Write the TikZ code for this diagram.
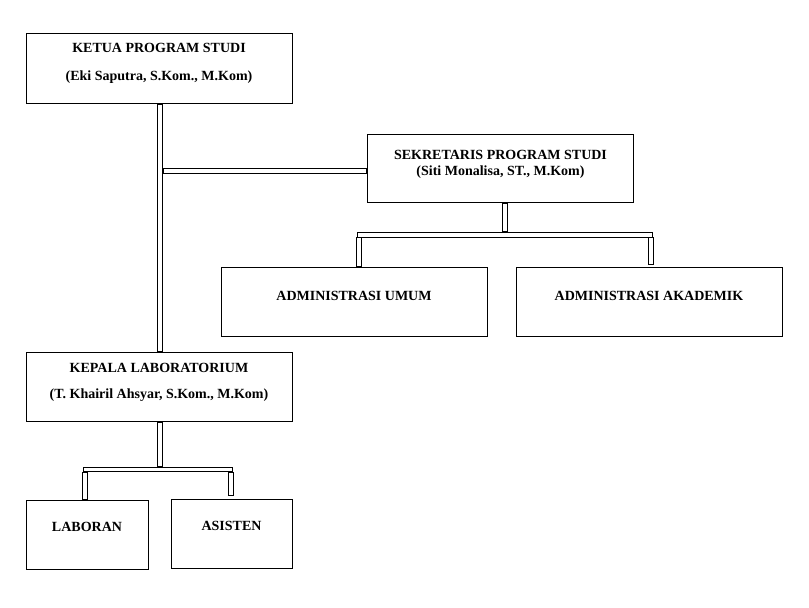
\documentclass[tikz,border=0pt]{standalone}
\usepackage{fontspec}
\setmainfont{Liberation Serif}
\newcommand{\lineat}[2]{\raisebox{#1}[0pt][0pt]{\makebox[0pt]{#2}}}
\tikzset{
  box/.style={draw, line width=1pt, inner sep=0pt, minimum height=69pt,
    font=\fontsize{14}{16}\selectfont\bfseries},
  wide/.style={box, minimum width=266pt},
  narrow/.style={box, minimum width=122pt},
  conn/.style={draw, double=white, line width=1pt, double distance=3.5pt,
    line cap=rect, shorten <=2.75pt, shorten >=2.75pt},
}
\begin{document}
\begin{tikzpicture}[x=1pt,y=-1pt]
\fill[white] (0,0) rectangle (809,608);
\useasboundingbox (0,0) rectangle (809,608);

% boxes
\node[wide, minimum height=70pt] (k) at (159,68.5)
  {\lineat{16.4pt}{KETUA PROGRAM STUDI}\lineat{-11.6pt}{(Eki Saputra, S.Kom., M.Kom)}};
\node[wide, minimum height=68pt] (s) at (500.5,168.5)
  {\lineat{9.4pt}{SEKRETARIS PROGRAM STUDI}\lineat{-7pt}{(Siti Monalisa, ST., M.Kom)}};
\node[wide] (au) at (354,301.5) {\lineat{0.9pt}{ADMINISTRASI UMUM}};
\node[wide] (ak) at (649,301.5) {\lineat{0.9pt}{ADMINISTRASI AKADEMIK}};
\node[wide] (kl) at (159,387)
  {\lineat{14.5pt}{KEPALA LABORATORIUM}\lineat{-11pt}{(T. Khairil Ahsyar, S.Kom., M.Kom)}};
\node[narrow] (lb) at (87,534.5) {\lineat{2.9pt}{LABORAN}};
\node[narrow, minimum width=121pt] (as) at (231.5,533.5) {\lineat{2.9pt}{ASISTEN}};

% named points of the connector bars
\coordinate (vk) at (160,0);
\coordinate (b1) at (505,234.8);
\coordinate (b1l) at (356.7,234.8);
\coordinate (b1r) at (653.3,234.8);
\coordinate (l1) at (359.2,237.3);
\coordinate (r1) at (650.8,237.3);
\coordinate (b2) at (160,469.3);
\coordinate (b2l) at (82.7,469.3);
\coordinate (b2r) at (233.3,469.3);
\coordinate (l2) at (85.2,472);
\coordinate (r2) at (230.8,472);
\coordinate (hs) at (162.75,170.8);

% ketua -> kepala lab
\draw[conn] (k.south -| vk) -- (kl.north -| vk);
% ketua line -> sekretaris
\draw[conn] (hs) -- (hs -| s.west);
% sekretaris -> administrasi
\draw[conn] (s.south -| b1) -- ([yshift=2.5pt]b1);
\draw[conn] (b1l) -- (b1r);
\draw[conn] (l1) -- (l1 |- au.north);
\draw[conn] (r1) -- ([yshift=1.5pt]r1 |- ak.north);
% kepala lab -> laboran, asisten
\draw[conn] (kl.south -| b2) -- ([yshift=2.6pt]b2);
\draw[conn] (b2l) -- (b2r);
\draw[conn] (l2) -- (l2 |- lb.north);
\draw[conn] (r2) -- ([yshift=2.3pt]r2 |- as.north);
\end{tikzpicture}
\end{document}
